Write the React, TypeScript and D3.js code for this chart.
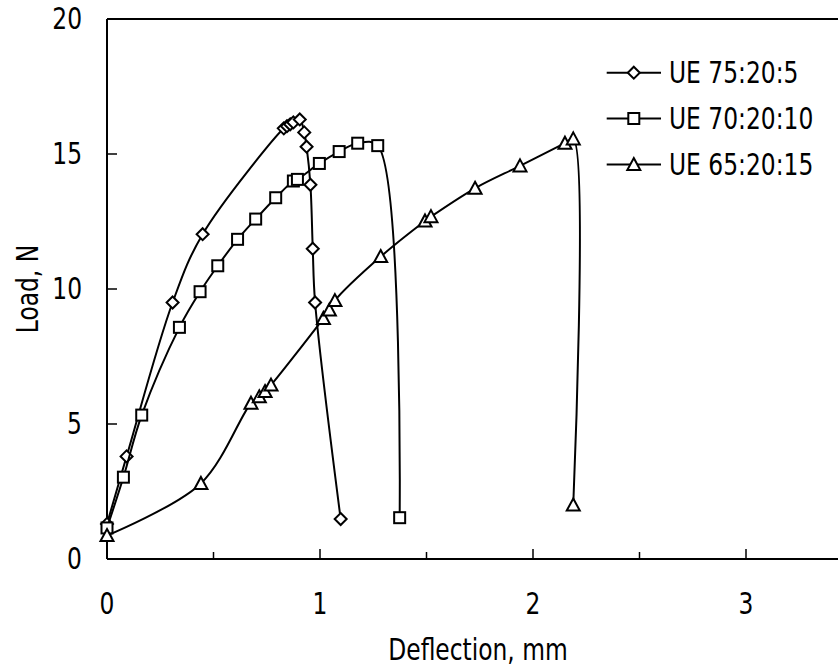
import React from "react";
import * as d3 from "d3";

const seriesNames = ["UE 75:20:5", "UE 70:20:10", "UE 65:20:15"];

const diamondX = [0, 0.092, 0.308, 0.449, 0.83, 0.845, 0.86, 0.875, 0.905, 0.926, 0.937, 0.955, 0.966, 0.977, 1.097];
const diamondY = [1.3, 3.8, 9.5, 12.03, 15.95, 16.03, 16.1, 16.17, 16.28, 15.8, 15.27, 13.86, 11.49, 9.5, 1.48];

const squareX = [0, 0.077, 0.163, 0.34, 0.437, 0.52, 0.613, 0.698, 0.792, 0.875, 0.894, 0.997, 1.09, 1.177, 1.271, 1.374];
const squareY = [1.15, 3.03, 5.33, 8.58, 9.9, 10.86, 11.84, 12.59, 13.38, 14.0, 14.06, 14.65, 15.09, 15.4, 15.31, 1.53];

const triX = [0, 0.441, 0.676, 0.715, 0.742, 0.77, 1.016, 1.044, 1.07, 1.285, 1.493, 1.521, 1.728, 1.939, 2.15, 2.189, 2.189];
const triY = [0.87, 2.8, 5.77, 6.01, 6.2, 6.44, 8.91, 9.22, 9.57, 11.2, 12.52, 12.68, 13.73, 14.56, 15.4, 15.56, 2.0];

const xMajorTicks = [0, 1, 2, 3];
const xMinorTicks = [0.5, 1.5, 2.5, 3.5];
const yTicks = [0, 5, 10, 15, 20];

const FONT = "'DejaVu Sans Condensed', 'DejaVu Sans', sans-serif";
const FS = 26;
const SY = 1.14;

function Label({ x, y, text, anchor = "start" }: { x: number; y: number; text: string; anchor?: string }) {
  return (
    <g transform={`translate(${x},${y}) scale(1,${SY})`}>
      <text x={0} y={0} textAnchor={anchor} dominantBaseline="central" fontFamily={FONT} fontSize={FS} fill="#000">
        {text}
      </text>
    </g>
  );
}

function Marker({ type, x, y }: { type: number; x: number; y: number }) {
  const common = { fill: "#fff", stroke: "#000", strokeWidth: 2 };
  if (type === 0) {
    const r = 6;
    return <path d={`M${x},${y - r}L${x + r},${y}L${x},${y + r}L${x - r},${y}Z`} {...common} />;
  }
  if (type === 1) {
    const r = 5.5;
    return <rect x={x - r} y={y - r} width={2 * r} height={2 * r} {...common} />;
  }
  const r = 6.5;
  return <path d={`M${x},${y - r}L${x + r},${y + r - 1}L${x - r},${y + r - 1}Z`} {...common} />;
}

export default function App() {
  const W = 838, H = 670;
  const x = d3.scaleLinear().domain([0, 3.5]).range([107, 107 + 3.5 * 213]);
  const y = d3.scaleLinear().domain([0, 20]).range([559, 19]);

  const series = [
    { xs: diamondX, ys: diamondY },
    { xs: squareX, ys: squareY },
    { xs: triX, ys: triY },
  ];

  const line = d3
    .line<[number, number]>()
    .x((d) => x(d[0]))
    .y((d) => y(d[1]))
    .curve(d3.curveCatmullRom.alpha(0.5));

  const legendY = [72.7, 118.5, 164.5];

  return (
    <svg width={W} height={H} style={{ position: "absolute", left: 0, top: 0, background: "#fff" }}>
      <rect x={0} y={0} width={W} height={H} fill="#fff" />
      <line x1={x(0)} y1={y(20)} x2={x(3.5)} y2={y(20)} stroke="#000" strokeWidth={2} />
      <line x1={x(0)} y1={y(0)} x2={x(3.5)} y2={y(0)} stroke="#000" strokeWidth={2} />
      <line x1={x(0)} y1={y(0)} x2={x(0)} y2={y(20)} stroke="#000" strokeWidth={2} />
      <line x1={x(3.5)} y1={y(0)} x2={x(3.5)} y2={y(20)} stroke="#000" strokeWidth={2} />

      {yTicks.map((t) => (
        <g key={"y" + t}>
          <line x1={x(0)} x2={x(0) + 10} y1={y(t)} y2={y(t)} stroke="#000" strokeWidth={1.5} />
          <Label x={82} y={y(t)} text={String(t)} anchor="end" />
        </g>
      ))}
      {xMajorTicks.map((t) => (
        <g key={"x" + t}>
          <line x1={x(t)} x2={x(t)} y1={y(0)} y2={y(0) - 10} stroke="#000" strokeWidth={1.5} />
          <Label x={x(t)} y={604} text={String(t)} anchor="middle" />
        </g>
      ))}
      {xMinorTicks.map((t) => (
        <line key={"xm" + t} x1={x(t)} x2={x(t)} y1={y(0)} y2={y(0) - 7} stroke="#000" strokeWidth={1.5} />
      ))}

      <Label x={478} y={650} text="Deflection, mm" anchor="middle" />
      <g transform="translate(28,289) rotate(-90)">
        <text x={0} y={0} textAnchor="middle" dominantBaseline="central" fontFamily={FONT} fontSize={FS} transform={`scale(1,${SY})`}>
          Load, N
        </text>
      </g>

      {series.map((s, i) => {
        const pts = s.xs.map((v, j) => [v, s.ys[j]] as [number, number]);
        return (
          <g key={"s" + i}>
            <path d={line(pts) || ""} fill="none" stroke="#000" strokeWidth={2} />
            {pts.map((p, j) => (
              <Marker key={j} type={i} x={x(p[0])} y={y(p[1])} />
            ))}
          </g>
        );
      })}

      {seriesNames.map((n, i) => (
        <g key={"l" + i}>
          <line x1={606.7} x2={661} y1={legendY[i]} y2={legendY[i]} stroke="#000" strokeWidth={2} />
          <Marker type={i} x={633.8} y={legendY[i]} />
          <Label x={669} y={legendY[i]} text={n} anchor="start" />
        </g>
      ))}
    </svg>
  );
}
